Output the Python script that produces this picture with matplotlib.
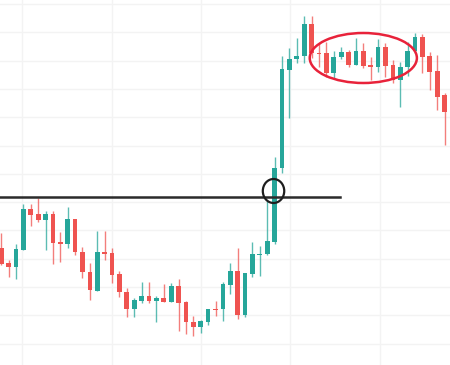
import matplotlib
matplotlib.use("Agg")
import matplotlib.pyplot as plt
from matplotlib.patches import Ellipse, Rectangle
import numpy as np

# Price values (arbitrary units), one entry per candle
opens = [117, 102, 98, 115, 156, 151, 145, 151, 123, 121, 146, 113, 93, 74, 113, 112, 91, 73,
         56, 64, 69, 64, 67, 63, 79, 63, 43, 38, 43, 56, 56, 80, 94, 50, 91, 110, 111, 123, 197,
         295, 306, 309, 341, 312, 312, 292, 308, 313, 300, 314, 300, 298, 318, 300, 285, 298,
         314, 328, 309, 294, 270, 265]
closes = [101, 98, 116, 156, 150, 145, 151, 122, 121, 146, 113, 93, 75, 113, 111, 90, 73, 56,
          65, 69, 64, 67, 63, 79, 62, 43, 38, 44, 56, 55, 81, 94, 50, 92, 111, 111, 124, 197, 296,
          306, 309, 341, 312, 311, 292, 308, 313, 300, 314, 299, 298, 318, 299, 285, 298, 314, 328,
          308, 293, 268, 253, 240]
highs = [132, 105, 121, 161, 161, 167, 154, 154, 133, 158, 146, 118, 102, 134, 134, 117, 94, 77,
         67, 83, 83, 69, 81, 82, 86, 64, 49, 45, 56, 64, 83, 102, 117, 92, 123, 119, 164, 208, 309,
         317, 327, 349, 349, 322, 323, 314, 318, 315, 327, 322, 308, 326, 322, 305, 303, 323, 332,
         331, 313, 310, 272, 270]
lows = [100, 88, 86, 115, 139, 143, 115, 101, 103, 117, 110, 87, 65, 74, 105, 82, 68, 48,
        48, 62, 62, 43, 63, 63, 34, 31, 29, 32, 40, 49, 44, 71, 46, 48, 88, 89, 110, 121, 192,
        247, 302, 302, 307, 298, 288, 287, 306, 298, 300, 297, 285, 293, 288, 282, 258, 289,
        312, 292, 275, 255, 220, 230]

level_price = 168
level_end = 45.8
circle_center = (36.85, 174)
ellipse_center = (49.0, 307)

UP = "#26a69a"
DOWN = "#ef5350"

fig = plt.figure(figsize=(4.5, 3.65), dpi=100)
ax = fig.add_axes([0, 0, 1, 1])
ax.set_xlim(-0.162, 60.73)
ax.set_ylim(0, 365)

# grid
xgrid = 2.855 + 12.084 * np.arange(0, 6)
ygrid = 361 - 28.3 * np.arange(0, 13)
for gx in xgrid:
    ax.axvline(gx, color="#f3f3f3", lw=1.0, zorder=0)
for gy in ygrid:
    ax.axhline(gy, color="#f3f3f3", lw=1.0, zorder=0)

w = 0.64
for i, (o, c, h, l) in enumerate(zip(opens, closes, highs, lows)):
    col = UP if c >= o else DOWN
    ax.vlines(i, l, h, color=col, lw=1.0, alpha=0.75, zorder=2)
    bot = min(o, c)
    hgt = max(abs(c - o), 1.2)
    ax.add_patch(Rectangle((i - w / 2, bot), w, hgt, facecolor=col,
                           edgecolor="none", zorder=3))

ax.plot([-0.5, level_end], [level_price, level_price], color="#2b2b2b", lw=1.8, zorder=4)
ax.add_patch(Ellipse(circle_center, 2.9, 24, facecolor="none", edgecolor="#1e1e1e",
                     lw=1.6, zorder=5))
ax.add_patch(Ellipse(ellipse_center, 14.5, 50, facecolor="none", edgecolor="#e8223a",
                     lw=1.8, zorder=5))

ax.set_xticks([])
ax.set_yticks([])
for s in ax.spines.values():
    s.set_visible(False)

fig.savefig("out.png", dpi=100, facecolor="white")
